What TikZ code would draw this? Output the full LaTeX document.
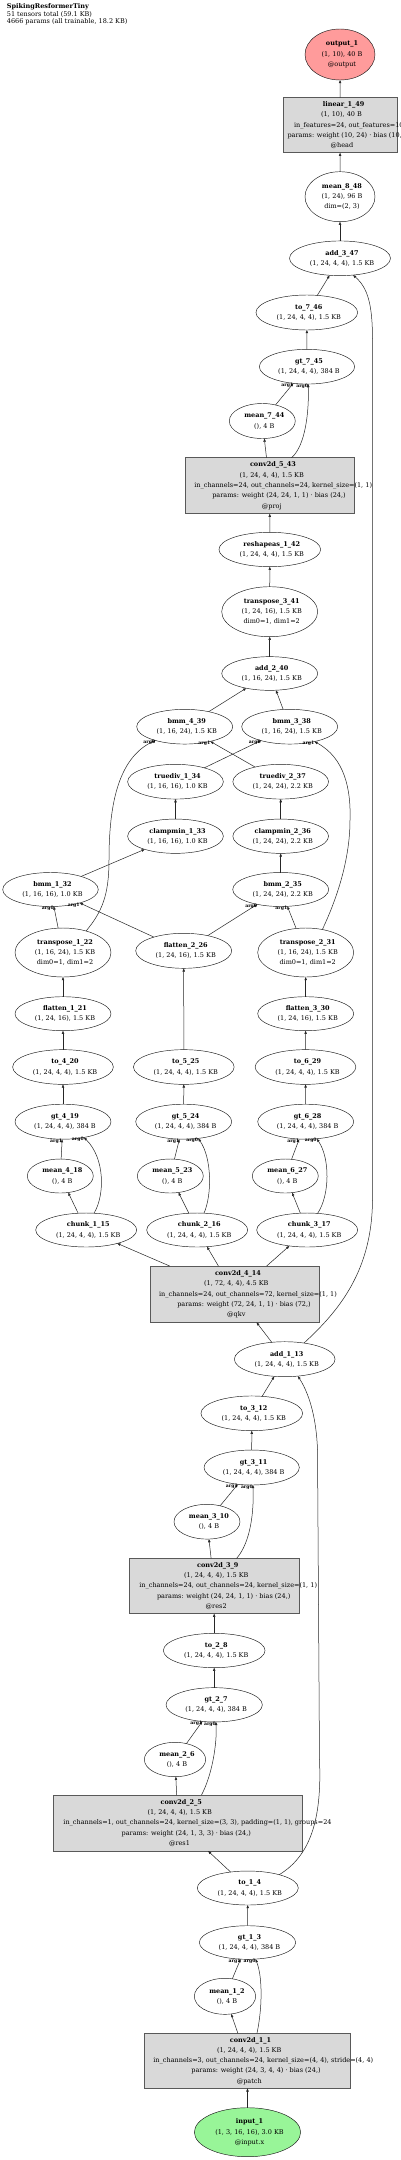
\documentclass[tikz,border=0pt]{standalone}
\usepackage{fontspec}
\setmainfont{DejaVu Serif}
\usetikzlibrary{shapes.geometric,arrows.meta}
\definecolor{outred}{HTML}{FF9B9B}
\definecolor{ingreen}{HTML}{98F598}
\definecolor{boxgray}{HTML}{D9D9D9}
\tikzset{
 ell/.style={ellipse, draw=black!90, line width=0.45pt, inner sep=0pt, outer sep=0pt},
 bx/.style={rectangle, draw=black!65, fill=boxgray, line width=0.6pt, inner sep=0pt, outer sep=0pt},
 lbl/.style={align=center, inner sep=0pt, font=\fontsize{6.5}{10.3}\selectfont, text=black},
 conn/.style={draw=black!85, line width=0.5pt, -{Triangle[length=3.2pt,width=2.4pt]}},
 argl/.style={font=\fontsize{4.6}{5}\selectfont\bfseries, inner sep=0pt, xshift=-6pt, yshift=-2pt},
}
\newcommand\EL[6][]{\node[ell,#1,minimum width=#4pt,minimum height=#5pt] (#2) at (#3) {};\node[lbl,xshift=2pt] (#2t) at (#2.center) {#6};}
\newcommand\BX[5]{\node[bx,minimum width=#3pt,minimum height=#4pt] (#1) at (#2) {};\node[lbl] (#1t) at (#1.center) {#5};}
\newcommand\shiftline[2]{\hspace*{#1pt}\hspace*{#1pt}#2}
\begin{document}
\begin{tikzpicture}[x=1pt,y=-1pt]
\fill[white] (0,0) rectangle (400,2160);
\useasboundingbox (0,0) rectangle (400,2160);

\node[anchor=north west, align=left, inner sep=0pt, font=\fontsize{6.5}{7.7}\selectfont] (title) at (6.7,3.2)
 {\textbf{SpikingResformerTiny}\\51 tensors total (59.1 KB)\\4666 params (all trainable, 18.2 KB)};

% ---- nodes ----
\EL[fill=outred]{out1}{340,54.5}{70}{51}{\textbf{output\_1}\\(1, 10), 40 B\\@output}
\BX{lin149}{340.15,125.2}{114.7}{55}{\shiftline{3.5}{\textbf{linear\_1\_49}}\\\shiftline{1.3}{(1, 10), 40 B}\\\shiftline{8.7}{in\_features=24, out\_features=10}\\\shiftline{5.8}{params: weight (10, 24) · bias (10,)}\\\shiftline{1.8}{@head}}
\EL{mean848}{340,196.7}{70}{50}{\textbf{mean\_8\_48}\\(1, 24), 96 B\\dim=(2, 3)}
\EL{add347}{340,258.3}{101}{34.7}{\textbf{add\_3\_47}\\(1, 24, 4, 4), 1.5 KB}
\EL{to746}{306.8,312.5}{101.7}{35}{\textbf{to\_7\_46}\\(1, 24, 4, 4), 1.5 KB}
\EL{gt745}{307,366.7}{95.3}{34.7}{\textbf{gt\_7\_45}\\(1, 24, 4, 4), 384 B}
\EL{mean744}{262.3,421}{66}{35}{\textbf{mean\_7\_44}\\(), 4 B}
\BX{conv543}{269.7,485.7}{169.3}{56}{\shiftline{3.3}{\textbf{conv2d\_5\_43}}\\\shiftline{2}{(1, 24, 4, 4), 1.5 KB}\\\shiftline{13.5}{in\_channels=24, out\_channels=24, kernel\_size=(1, 1)}\\\shiftline{9.3}{params: weight (24, 24, 1, 1) · bias (24,)}\\\shiftline{2.1}{@proj}}
\EL{resh142}{269.8,549.5}{101.7}{34.4}{\textbf{reshapeas\_1\_42}\\(1, 24, 4, 4), 1.5 KB}
\EL{tr341}{269.7,611.7}{96}{50}{\textbf{transpose\_3\_41}\\(1, 24, 16), 1.5 KB\\dim0=1, dim1=2}
\EL{add240}{269.7,673.5}{96}{33.7}{\textbf{add\_2\_40}\\(1, 16, 24), 1.5 KB}
\EL{bmm439}{184.7,726.7}{96}{34.7}{\textbf{bmm\_4\_39}\\(1, 16, 24), 1.5 KB}
\EL{bmm338}{289.7,726.7}{96}{34.7}{\textbf{bmm\_3\_38}\\(1, 16, 24), 1.5 KB}
\EL{td134}{175.5,781.7}{95.7}{34.7}{\textbf{truediv\_1\_34}\\(1, 16, 16), 1.0 KB}
\EL{td237}{280.7,781.7}{95.7}{34.7}{\textbf{truediv\_2\_37}\\(1, 24, 24), 2.2 KB}
\EL{cm133}{175.5,836.2}{95.7}{34.3}{\textbf{clampmin\_1\_33}\\(1, 16, 16), 1.0 KB}
\EL{cm236}{280.7,836.2}{95.7}{34.3}{\textbf{clampmin\_2\_36}\\(1, 24, 24), 2.2 KB}
\EL{bmm132}{50.5,889.5}{95.6}{34}{\textbf{bmm\_1\_32}\\(1, 16, 16), 1.0 KB}
\EL{bmm235}{280.7,889.5}{96}{34}{\textbf{bmm\_2\_35}\\(1, 24, 24), 2.2 KB}
\EL{tr122}{63,952.5}{96}{49}{\textbf{transpose\_1\_22}\\(1, 16, 24), 1.5 KB\\dim0=1, dim1=2}
\EL{fl226}{183.7,950.8}{96}{35}{\textbf{flatten\_2\_26}\\(1, 24, 16), 1.5 KB}
\EL{tr231}{305.7,952.5}{96}{49}{\textbf{transpose\_2\_31}\\(1, 16, 24), 1.5 KB\\dim0=1, dim1=2}
\EL{fl121}{63,1013.7}{96}{34}{\textbf{flatten\_1\_21}\\(1, 24, 16), 1.5 KB}
\EL{fl330}{305.7,1013.7}{96}{34}{\textbf{flatten\_3\_30}\\(1, 24, 16), 1.5 KB}
\EL{to420}{63,1067}{100.7}{34.7}{\textbf{to\_4\_20}\\(1, 24, 4, 4), 1.5 KB}
\EL{to525}{183.8,1067}{100.7}{34.7}{\textbf{to\_5\_25}\\(1, 24, 4, 4), 1.5 KB}
\EL{to629}{305.5,1067}{100.7}{34.7}{\textbf{to\_6\_29}\\(1, 24, 4, 4), 1.5 KB}
\EL{gt419}{63,1121.7}{96}{35}{\textbf{gt\_4\_19}\\(1, 24, 4, 4), 384 B}
\EL{gt524}{183.7,1121.7}{96}{35}{\textbf{gt\_5\_24}\\(1, 24, 4, 4), 384 B}
\EL{gt628}{305.7,1121.7}{96}{35}{\textbf{gt\_6\_28}\\(1, 24, 4, 4), 384 B}
\EL{mean418}{60.3,1176}{66}{34}{\textbf{mean\_4\_18}\\(), 4 B}
\EL{mean523}{170.3,1176}{66}{34}{\textbf{mean\_5\_23}\\(), 4 B}
\EL{mean627}{285.3,1176}{66}{34}{\textbf{mean\_6\_27}\\(), 4 B}
\EL{ch115}{86.2,1230}{101}{34}{\textbf{chunk\_1\_15}\\(1, 24, 4, 4), 1.5 KB}
\EL{ch216}{197.2,1230}{101}{34}{\textbf{chunk\_2\_16}\\(1, 24, 4, 4), 1.5 KB}
\EL{ch317}{307.2,1230}{101}{34}{\textbf{chunk\_3\_17}\\(1, 24, 4, 4), 1.5 KB}
\BX{conv414}{235,1294.2}{168.7}{56.3}{\shiftline{3}{\textbf{conv2d\_4\_14}}\\\shiftline{1.3}{(1, 72, 4, 4), 4.5 KB}\\\shiftline{13}{in\_channels=24, out\_channels=72, kernel\_size=(1, 1)}\\\shiftline{9}{params: weight (72, 24, 1, 1) · bias (72,)}\\\shiftline{1.3}{@qkv}}
\EL{add113}{284.7,1359.2}{100.7}{35}{\textbf{add\_1\_13}\\(1, 24, 4, 4), 1.5 KB}
\EL{to312}{251.8,1413.3}{101.7}{34.7}{\textbf{to\_3\_12}\\(1, 24, 4, 4), 1.5 KB}
\EL{gt311}{251.7,1467.5}{95.3}{35}{\textbf{gt\_3\_11}\\(1, 24, 4, 4), 384 B}
\EL{mean310}{207,1521.7}{66}{34.7}{\textbf{mean\_3\_10}\\(), 4 B}
\BX{conv39}{214.2,1586}{169.7}{55.3}{\shiftline{3.6}{\textbf{conv2d\_3\_9}}\\\shiftline{2.1}{(1, 24, 4, 4), 1.5 KB}\\\shiftline{14}{in\_channels=24, out\_channels=24, kernel\_size=(1, 1)}\\\shiftline{9.5}{params: weight (24, 24, 1, 1) · bias (24,)}\\\shiftline{2}{@res2}}
\EL{to28}{214.2,1650.5}{101.7}{34.3}{\textbf{to\_2\_8}\\(1, 24, 4, 4), 1.5 KB}
\EL{gt27}{214.2,1704.8}{96.3}{34.3}{\textbf{gt\_2\_7}\\(1, 24, 4, 4), 384 B}
\EL{mean26}{175,1759.5}{61.3}{34.3}{\textbf{mean\_2\_6}\\(), 4 B}
\BX{conv25}{178,1823}{249.3}{56}{\shiftline{3.3}{\textbf{conv2d\_2\_5}}\\\shiftline{1.7}{(1, 24, 4, 4), 1.5 KB}\\\shiftline{19.5}{in\_channels=1, out\_channels=24, kernel\_size=(3, 3), padding=(1, 1), groups=24}\\\shiftline{8.3}{params: weight (24, 1, 3, 3) · bias (24,)}\\\shiftline{1.5}{@res1}}
\EL{to14}{247.8,1888}{101}{34}{\textbf{to\_1\_4}\\(1, 24, 4, 4), 1.5 KB}
\EL{gt13}{247.5,1942.5}{96.3}{33.6}{\textbf{gt\_1\_3}\\(1, 24, 4, 4), 384 B}
\EL{mean12}{225,1996.3}{61.3}{36}{\textbf{mean\_1\_2}\\(), 4 B}
\BX{conv11}{247.5,2060.8}{206.3}{55}{\shiftline{3}{\textbf{conv2d\_1\_1}}\\\shiftline{1.7}{(1, 24, 4, 4), 1.5 KB}\\\shiftline{15.8}{in\_channels=3, out\_channels=24, kernel\_size=(4, 4), stride=(4, 4)}\\\shiftline{8.5}{params: weight (24, 3, 4, 4) · bias (24,)}\\\shiftline{1.8}{@patch}}
\EL[fill=ingreen]{in1}{247.5,2132.2}{106.3}{49}{\textbf{input\_1}\\(1, 3, 16, 16), 3.0 KB\\@input.x}

% ---- connectors ----
\draw[conn] (in1) -- (conv11);
\draw[conn] (conv11) -- (mean12);
\draw[conn] (conv11.71.5) .. controls (262,2010) and (263,1978) .. (gt13.-64) node[argl,pos=1] (l13b) {arg0};
\draw[conn] (mean12) -- (gt13) node[argl,pos=1] (l13a) {arg1};
\draw[conn] (gt13) -- (to14);
\draw[conn] (to14) -- (conv25);
\draw[conn] (to14.23.5) .. controls (310,1856) and (322,1820) .. (319.5,1760) -- (317.5,1450) .. controls (316.5,1420) and (310,1395) .. (add113.-52.1);
\draw[conn] (conv25) -- (mean26);
\draw[conn] (conv25.50.6) .. controls (212,1775) and (217,1745) .. (gt27.-84.3) node[argl,pos=1] (l27b) {arg0};
\draw[conn] (mean26) -- (gt27) node[argl,pos=1] (l27a) {arg1};
\draw[conn] (gt27) -- (to28);
\draw[conn] (to28) -- (conv39);
\draw[conn] (conv39) -- (mean310);
\draw[conn] (conv39.51.8) .. controls (251,1542) and (254,1510) .. (gt311.-86.9) node[argl,pos=1] (l311b) {arg0};
\draw[conn] (mean310) -- (gt311) node[argl,pos=1] (l311a) {arg1};
\draw[conn] (gt311) -- (to312);
\draw[conn] (to312) -- (add113);
\draw[conn] (add113) -- (conv414);
\draw[conn] (add113.40.8) .. controls (340,1310) and (372,1270) .. (372.5,1200) -- (372.5,340) .. controls (372.5,305) and (368,288) .. (add347.-52.6);
\draw[conn] (conv414) -- (ch115);
\draw[conn] (conv414) -- (ch216);
\draw[conn] (conv414) -- (ch317);
\draw[conn] (ch115) -- (mean418);
\draw[conn] (ch115.65) .. controls (105,1195) and (105,1158) .. (gt419.-37) node[argl,pos=1] (l419b) {arg0};
\draw[conn] (mean418) -- (gt419) node[argl,pos=1] (l419a) {arg1};
\draw[conn] (ch216) -- (mean523);
\draw[conn] (ch216.68.5) .. controls (212,1195) and (212,1158) .. (gt524.-49.8) node[argl,pos=1] (l524b) {arg0};
\draw[conn] (mean523) -- (gt524) node[argl,pos=1] (l524a) {arg1};
\draw[conn] (ch317) -- (mean627);
\draw[conn] (ch317.58.7) .. controls (330,1195) and (330,1158) .. (gt628.-57.5) node[argl,pos=1] (l628b) {arg0};
\draw[conn] (mean627) -- (gt628) node[argl,pos=1] (l628a) {arg1};
\draw[conn] (gt419) -- (to420);
\draw[conn] (gt524) -- (to525);
\draw[conn] (gt628) -- (to629);
\draw[conn] (to420) -- (fl121);
\draw[conn] (to525) -- (fl226);
\draw[conn] (to629) -- (fl330);
\draw[conn] (fl121) -- (tr122);
\draw[conn] (fl330) -- (tr231);
\draw[conn] (tr122) -- (bmm132) node[argl,pos=1] (l132a) {arg0};
\draw[conn] (fl226) -- (bmm132) node[argl,pos=1] (l132b) {arg1};
\draw[conn] (fl226) -- (bmm235) node[argl,pos=1] (l235a) {arg0};
\draw[conn] (tr231) -- (bmm235) node[argl,pos=1] (l235b) {arg1};
\draw[conn] (bmm132) -- (cm133);
\draw[conn] (bmm235) -- (cm236);
\draw[conn] (cm133) -- (td134);
\draw[conn] (cm236) -- (td237);
\draw[conn] (td134) -- (bmm338) node[argl,pos=1] (l338a) {arg0};
\draw[conn] (td237) -- (bmm439) node[argl,pos=1] (l439b) {arg1};
\draw[conn] (tr122.43.7) .. controls (102,912) and (109,895) .. (109,860) .. controls (109,805) and (118,758) .. (bmm439.205.5) node[argl,pos=1] (l439a) {arg0};
\draw[conn] (tr231.54) .. controls (329,915) and (350,870) .. (350,820) .. controls (351,790) and (345,758) .. (bmm338.-31.6) node[argl,pos=1] (l338b) {arg1};
\draw[conn] (bmm439) -- (add240);
\draw[conn] (bmm338) -- (add240);
\draw[conn] (add240) -- (tr341);
\draw[conn] (tr341) -- (resh142);
\draw[conn] (resh142) -- (conv543);
\draw[conn] (conv543) -- (mean744);
\draw[conn] (conv543.52.1) .. controls (306,445) and (309,410) .. (gt745.-86) node[argl,pos=1] (l745b) {arg0};
\draw[conn] (mean744) -- (gt745) node[argl,pos=1] (l745a) {arg1};
\draw[conn] (gt745) -- (to746);
\draw[conn] (to746) -- (add347);
\draw[conn] (add347) -- (mean848);
\draw[conn] (mean848) -- (lin149);
\draw[conn] (lin149) -- (out1);
\end{tikzpicture}
\end{document}
